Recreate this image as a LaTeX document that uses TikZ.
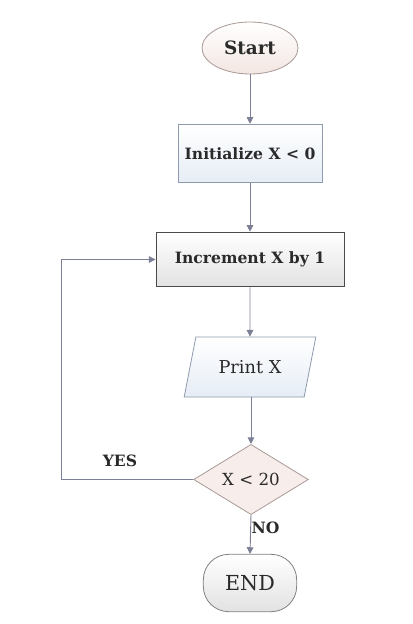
\documentclass[tikz,border=0pt]{standalone}
\usepackage{fontspec}
\setmainfont{DejaVu Serif}
\usetikzlibrary{shapes.geometric,arrows.meta}
\definecolor{linec}{HTML}{7C8096}
\definecolor{pinkf}{HTML}{F3E6E2}
\definecolor{pinkb}{HTML}{A89A96}
\definecolor{bluef}{HTML}{E6EDF5}
\definecolor{blueb}{HTML}{8E9AAE}
\definecolor{grayf}{HTML}{E2E2E2}
\definecolor{grayb}{HTML}{4A4A4A}
\definecolor{txt}{HTML}{2A2A2A}
\tikzset{
  conn/.style={draw=linec, line width=0.7pt, -{Triangle[length=5pt,width=5pt]}},
  startsh/.style={ellipse, draw=pinkb, line width=0.6pt, top color=white, bottom color=pinkf, minimum width=72pt, minimum height=39pt, inner sep=0pt, text=txt},
  initsh/.style={rectangle, draw=blueb, line width=0.6pt, top color=white, bottom color=bluef, minimum width=108pt, minimum height=44pt, inner sep=0pt, text=txt},
  incsh/.style={rectangle, draw=grayb, line width=0.7pt, top color=white, bottom color=grayf, minimum width=141pt, minimum height=41pt, inner sep=0pt, text=txt},
  iosh/.style={trapezium, trapezium stretches=true, trapezium left angle=63, trapezium right angle=117, draw=blueb, line width=0.6pt, top color=white, bottom color=bluef, minimum width=99pt, minimum height=45pt, inner sep=0pt, text=txt},
  decsh/.style={diamond, draw=pinkb, line width=0.6pt, fill=pinkf!70, minimum width=86pt, minimum height=50pt, inner sep=0pt, text=txt},
  endsh/.style={rectangle, rounded corners=19pt, draw=gray, line width=0.6pt, top color=white, bottom color=grayf, minimum width=70pt, minimum height=43pt, inner sep=0pt, text=txt},
  lbl/.style={font=\bfseries\fontsize{11.7}{13}\selectfont, text=txt}
}
\begin{document}
\begin{tikzpicture}[x=0.75pt,y=-0.75pt]
\useasboundingbox (0,0) rectangle (412,624);
\node[startsh, font=\bfseries\fontsize{13.8}{16}\selectfont] (start) at (250,48) {Start};
\node[initsh, font=\bfseries\fontsize{11.7}{13}\selectfont] (init) at (250,153.5) {Initialize X < 0};
\node[incsh, font=\bfseries\fontsize{11.7}{13}\selectfont] (inc) at (250,259.5) {Increment X by 1};
\node[iosh, font=\fontsize{13.3}{15}\selectfont] (print) at (250,367) {Print X};
\node[decsh, font=\fontsize{12.5}{14}\selectfont] (dec) at (251,479.5) {X < 20};
\node[endsh, font=\fontsize{15.5}{17}\selectfont] (end) at (250,583) {END};
\coordinate (c1) at (61,479.5);
\coordinate (c2) at (61,259.5);
\draw[conn] (start) -- (init);
\draw[conn] (init) -- (inc);
\draw[conn] (inc) -- (print);
\draw[conn] (print.south -| dec.north) -- (dec.north);
\draw[conn] (dec.south) -- (end.north);
\draw[conn] (dec.west) -- (c1) -- (c2) -- (inc.west);
\node[lbl] (yes) at (120,461) {YES};
\node[lbl] (no) at (265.5,528) {NO};
\end{tikzpicture}
\end{document}
